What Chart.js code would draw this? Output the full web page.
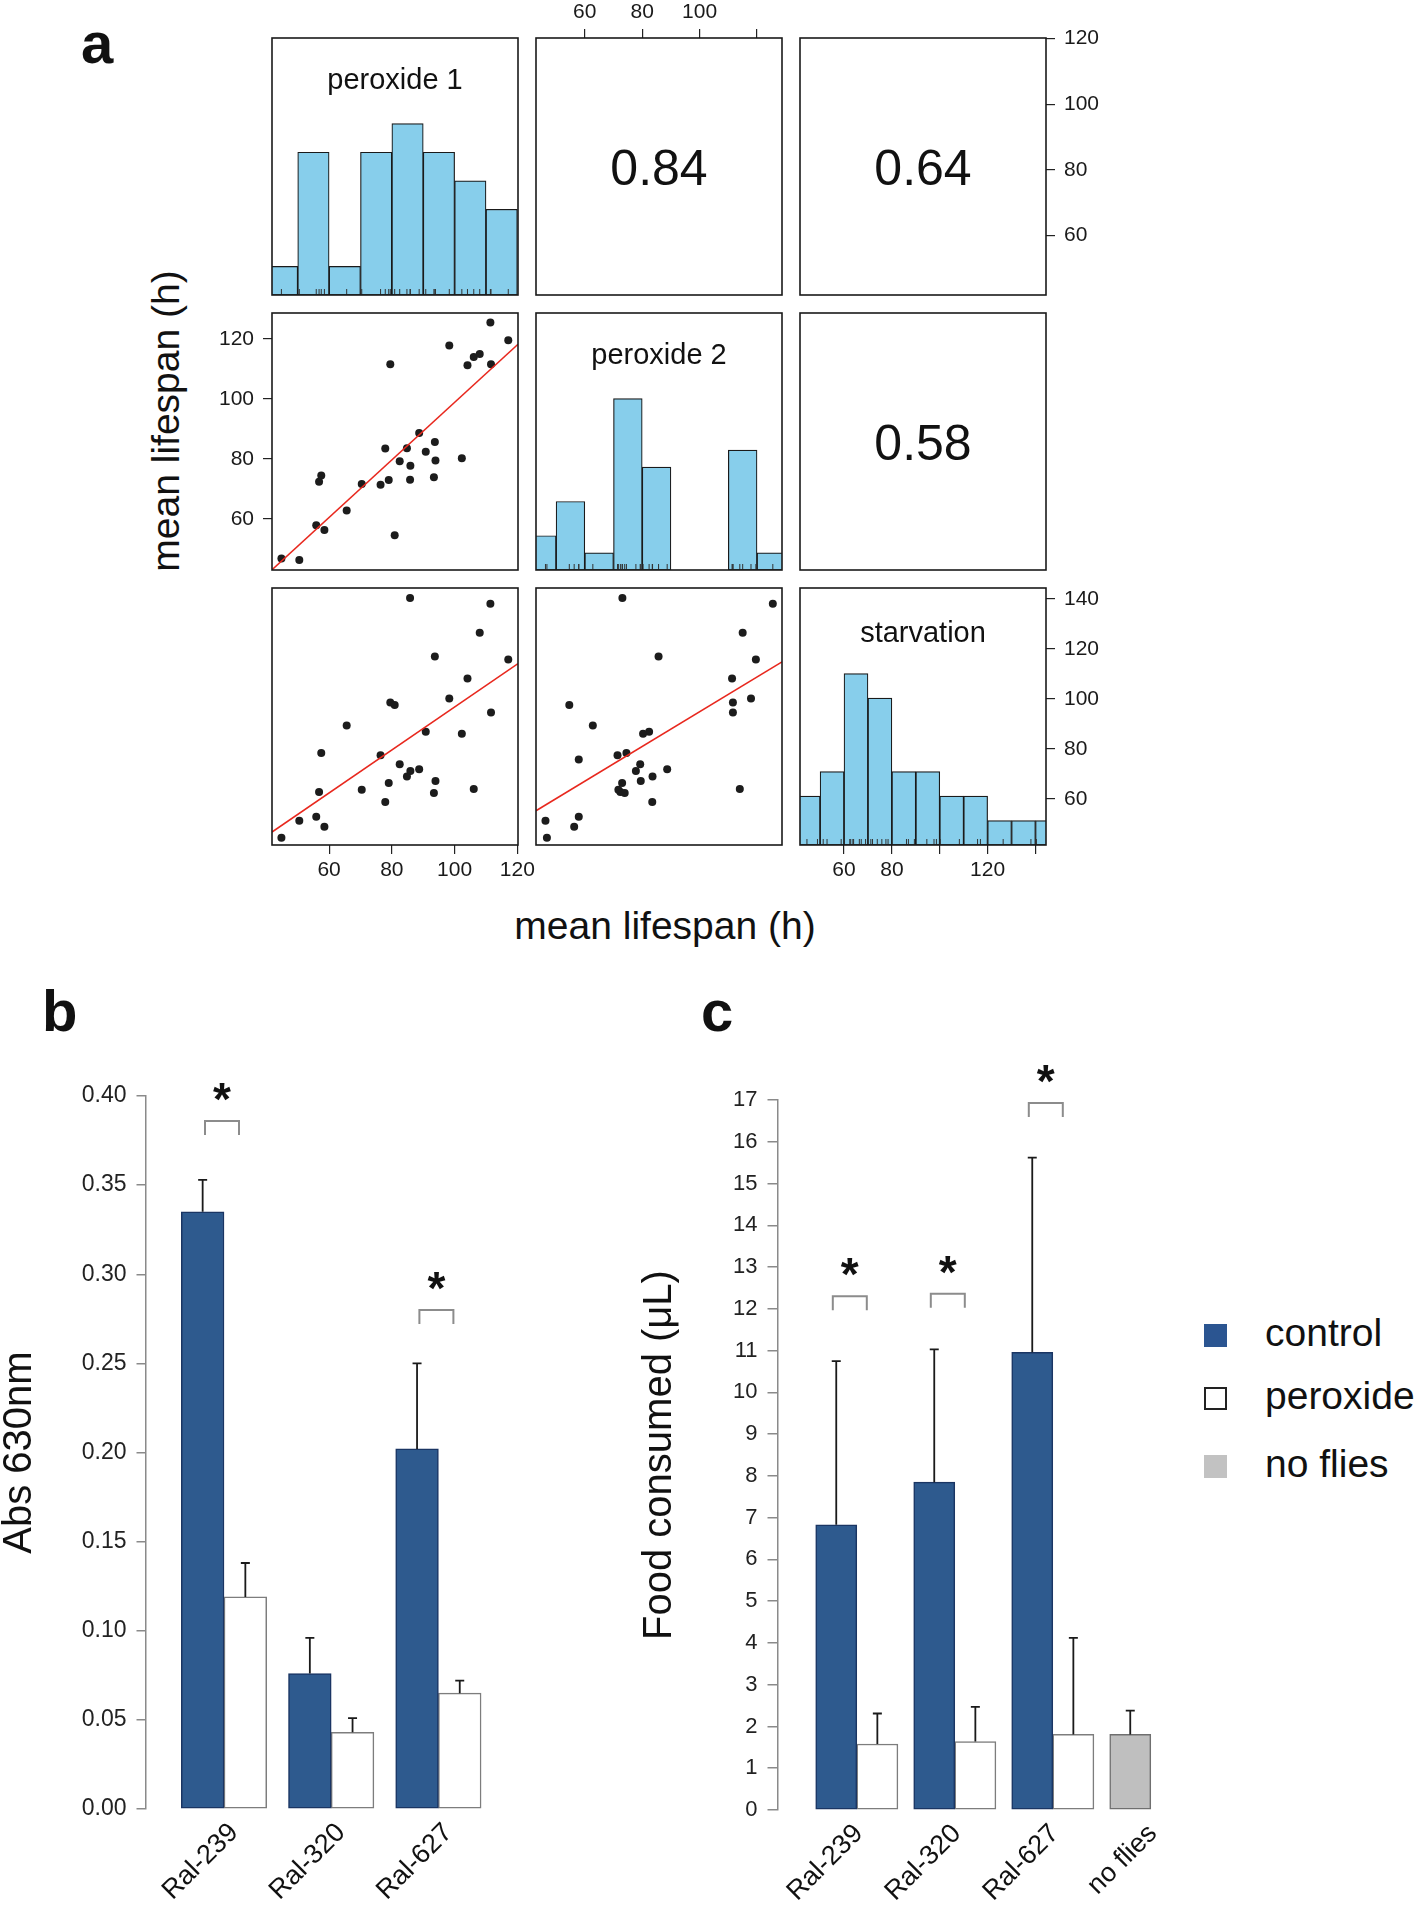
<!DOCTYPE html>
<html>
<head>
<meta charset="utf-8">
<script src="https://cdn.jsdelivr.net/npm/chart.js@4.4.1/dist/chart.umd.min.js"></script>
<style>
  body { margin: 0; width: 1418px; height: 1907px; position: relative; overflow: hidden; background: #fff;
         font-family: "Liberation Sans", Arial, sans-serif; color: #111; }
  canvas { position: absolute; }
  .tag { position: absolute; font-size: 58px; line-height: 58px; font-weight: bold; }
  .title { position: absolute; font-size: 39px; line-height: 39px; white-space: nowrap; }
  .key { position: absolute; left: 1265px; font-size: 39px; line-height: 39px; white-space: nowrap; }
  .sw { position: absolute; left: 1204px; width: 23px; height: 23px; box-sizing: border-box; }
</style>
</head>
<body>
<div class="tag" style="left:81px;top:14px">a</div>
<div class="tag" style="left:42px;top:982px">b</div>
<div class="tag" style="left:701px;top:982px">c</div>
<div class="title" style="left:165px;top:421px;transform:translate(-50%,-50%) rotate(-90deg)">mean lifespan (h)</div>
<div class="title" style="left:665px;top:925px;transform:translate(-50%,-50%)">mean lifespan (h)</div>

<div class="sw" style="top:1324px;background:#2b5591"></div>
<div class="key" style="top:1313px">control</div>
<div class="sw" style="top:1387px;background:#fff;border:2px solid #222"></div>
<div class="key" style="top:1376px">peroxide</div>
<div class="sw" style="top:1455px;background:#c2c2c2"></div>
<div class="key" style="top:1444px">no flies</div>

<script>
// ---- panel a : mean lifespan of each line (h), one entry per line ----
const peroxide1 = [44.8, 50.5, 55.9, 58.5, 56.8, 57.5, 65.6, 70.4, 76.4, 79.0, 77.9, 79.5, 80.9, 82.5, 84.8, 85.9,
                   85.8, 88.7, 90.8, 93.7, 93.9, 93.4, 98.3, 102.3, 104.1, 106.1, 108.0, 111.6, 111.4, 117.1, null];
const peroxide2 = [46.8, 46.3, 57.9, 56.3, 72.4, 74.5, 62.8, 71.7, 71.4, 73.0, 83.5, 111.6, 54.6, 79.3, 83.6, 77.8,
                   73.1, 88.7, 82.4, 85.7, 79.5, 73.9, 117.9, 80.3, 111.3, 114.0, 115.0, 111.6, 125.5, 119.6, 57.9];
const starvation = [44.5, 51.3, 52.9, 48.9, 62.8, 78.4, 89.4, 63.7, 77.5, 66.4, 58.8, 98.6, 97.6, 73.9, 69.0, 71.2,
                    140.4, 71.9, 86.9, 117.0, 67.2, 62.4, 100.2, 86.1, 108.2, 64.0, 126.5, 94.6, 138.1, 115.8, 75.8];

// histogram bins (start of each 10 h bin) and counts
const binWidth = 10;
const p1Bins = [40, 50, 60, 70, 80, 90, 100, 110];
const p1Counts = [1, 5, 1, 5, 6, 5, 4, 3];
const p2Bins = [40, 50, 60, 70, 80, 90, 100, 110, 120];
const p2Counts = [2, 4, 1, 10, 6, 0, 0, 7, 1];
const starvBins = [40, 50, 60, 70, 80, 90, 100, 110, 120, 130, 140];
const starvCounts = [2, 3, 7, 6, 3, 3, 2, 2, 1, 1, 1];

// linear fits [intercept, slope] and correlations
const fitP2onP1 = [3.0, 0.959];
const fitStarvOnP1 = [10.9, 0.859];
const fitStarvOnP2 = [25.4, 0.695];
const corrLabels = ['0.84', '0.64', '0.58'];

const p1Range = [41.8, 120.2], p2Range = [43.0, 128.7], starvRange = [41.6, 144.4];
const p1Ticks = [60, 80, 100, 120];
const p2Ticks = [60, 80, 100, 120];
const starvTicks = [60, 80, 100, 120, 140];

// ---- panel b : Abs 630nm ----
const strainsB = ['Ral-239', 'Ral-320', 'Ral-627'];
const absControl = [0.335, 0.076, 0.202];
const absControlErr = [0.018, 0.020, 0.048];
const absPeroxide = [0.119, 0.043, 0.065];
const absPeroxideErr = [0.019, 0.008, 0.007];
const absSig = [0.386, null, 0.280];
const absTicks = [0, 0.05, 0.10, 0.15, 0.20, 0.25, 0.30, 0.35, 0.40];

// ---- panel c : food consumed (uL) ----
const strainsC = ['Ral-239', 'Ral-320', 'Ral-627', 'no flies'];
const foodControl = [6.83, 7.85, 10.96, null];
const foodControlErr = [3.92, 3.18, 4.66, null];
const foodPeroxide = [1.58, 1.64, 1.81, null];
const foodPeroxideErr = [0.73, 0.83, 2.31, null];
const foodNoFlies = [null, null, null, 1.81];
const foodNoFliesErr = [null, null, null, 0.57];
const foodSig = [12.3, 12.36, 16.93, null];
const foodTicks = [0, 1, 2, 3, 4, 5, 6, 7, 8, 9, 10, 11, 12, 13, 14, 15, 16, 17];

Chart.defaults.animation = false;
Chart.defaults.responsive = false;
Chart.defaults.events = [];
Chart.defaults.font.family = '"Liberation Sans", Arial, sans-serif';

function addCanvas(left, top, w, h) {
  const c = document.createElement('canvas');
  c.width = w; c.height = h;
  c.style.left = left + 'px'; c.style.top = top + 'px';
  c.style.width = w + 'px'; c.style.height = h + 'px';
  document.body.appendChild(c);
  return c;
}

function centerText(ctx, s, x, y, font, color) {
  ctx.font = font;
  ctx.fillStyle = color || '#111';
  ctx.textAlign = 'center';
  ctx.textBaseline = 'alphabetic';
  const m = ctx.measureText(s);
  ctx.fillText(s, x, y + (m.actualBoundingBoxAscent - m.actualBoundingBoxDescent) / 2);
}

// box, rug, panel name and correlation text of the pairs plot
const pairsPlugin = {
  id: 'pairs',
  afterDraw(chart, args, o) {
    const ctx = chart.ctx, a = chart.chartArea;
    ctx.save();
    if (o.rug) {
      const xs = chart.scales.x;
      ctx.strokeStyle = '#333'; ctx.lineWidth = 1;
      o.rug.forEach(v => {
        if (v == null) return;
        const px = xs.getPixelForValue(v);
        if (px < a.left || px > a.right) return;
        ctx.beginPath(); ctx.moveTo(px, a.bottom); ctx.lineTo(px, a.bottom - 6); ctx.stroke();
      });
    }
    ctx.strokeStyle = '#1a1a1a'; ctx.lineWidth = 1.6;
    ctx.strokeRect(a.left, a.top, a.right - a.left, a.bottom - a.top);
    const cx = (a.left + a.right) / 2;
    if (o.name) centerText(ctx, o.name, cx, a.top + 43, '29px "Liberation Sans"');
    if (o.corr) centerText(ctx, o.corr, cx, (a.top + a.bottom) / 2, '50px "Liberation Sans"');
    ctx.restore();
  }
};

const M = 70, PW = 246, PH = 257;
const colX = [272, 536, 800], rowY = [38, 313, 588];

function pairAxis(kind, pos, range, ticks, labelled) {
  const vertical = kind === 'y';
  const shown = pos !== 'none';
  const opts = {
    type: 'linear', axis: kind, min: range[0], max: range[1], offset: false, display: shown,
    afterBuildTicks: s => { s.ticks = ticks.map(v => ({ value: v })); },
    grid: { display: true, offset: false, drawOnChartArea: false, drawTicks: true, tickLength: 9, color: '#222', lineWidth: 1.2 },
    border: { display: false },
    ticks: {
      autoSkip: false, maxRotation: 0, minRotation: 0, padding: vertical ? 9 : 4, color: '#1a1a1a',
      font: { family: 'Liberation Sans', size: 21 },
      callback: v => labelled.includes(v) ? String(v) : ''
    }
  };
  if (shown) {
    opts.position = pos;
    opts.afterFit = s => { if (vertical) s.width = M; else s.height = M; };
  }
  return opts;
}

function pairPanel(col, row, cfg) {
  const cv = addCanvas(colX[col] - M, rowY[row] - M, PW + 2 * M, PH + 2 * M);
  const ax = cfg.axes || {};
  const scales = {
    x: pairAxis('x', ax.x || 'none', cfg.xRange, cfg.xTicks || [], cfg.xLabels || []),
    y: pairAxis('y', ax.y || 'none', cfg.yRange, cfg.yTicks || [], cfg.yLabels || [])
  };
  if (cfg.y2) scales.y2 = pairAxis('y', 'right', cfg.y2.range, cfg.y2.ticks, cfg.y2.labels);
  const pad = { left: M, right: M, top: M, bottom: M };
  Object.values(scales).forEach(s => { if (s.display) pad[s.position] = 0; });
  new Chart(cv, {
    type: cfg.type || 'scatter',
    data: { datasets: cfg.datasets || [] },
    options: {
      layout: { padding: pad },
      scales,
      plugins: { pairs: cfg.deco || {}, legend: { display: false }, tooltip: { enabled: false } }
    },
    plugins: [pairsPlugin]
  });
}

function histSet(bins, counts) {
  return [{
    data: bins.map((b, i) => ({ x: b + binWidth / 2, y: counts[i] })),
    backgroundColor: '#87ceeb', borderColor: '#1a1a1a', borderWidth: 1.2, borderSkipped: false,
    barPercentage: 1, categoryPercentage: 1
  }];
}

function scatterSets(xs, ys, fit, xRange) {
  const pts = [];
  xs.forEach((x, i) => { if (x != null && ys[i] != null) pts.push({ x, y: ys[i] }); });
  return [
    { type: 'line', data: xRange.map(x => ({ x, y: fit[0] + fit[1] * x })), borderColor: '#e8281e',
      borderWidth: 1.6, pointRadius: 0, fill: false, order: 0 },
    { type: 'scatter', data: pts, pointRadius: 4, backgroundColor: '#1c1c1c', borderWidth: 0, order: 1 }
  ];
}

// row 1
pairPanel(0, 0, { type: 'bar', xRange: p1Range, yRange: [0, 1.5 * Math.max(...p1Counts)],
  datasets: histSet(p1Bins, p1Counts), deco: { name: 'peroxide 1', rug: peroxide1 } });
pairPanel(1, 0, { xRange: p2Range, yRange: [0, 1], axes: { x: 'top' }, xTicks: p2Ticks, xLabels: [60, 80, 100],
  deco: { corr: corrLabels[0] } });
pairPanel(2, 0, { xRange: starvRange, yRange: p1Range, axes: { y: 'right' }, yTicks: p1Ticks, yLabels: p1Ticks,
  deco: { corr: corrLabels[1] } });
// row 2
pairPanel(0, 1, { xRange: p1Range, yRange: p2Range, axes: { y: 'left' }, yTicks: p2Ticks, yLabels: p2Ticks,
  datasets: scatterSets(peroxide1, peroxide2, fitP2onP1, p1Range) });
pairPanel(1, 1, { type: 'bar', xRange: p2Range, yRange: [0, 1.5 * Math.max(...p2Counts)],
  datasets: histSet(p2Bins, p2Counts), deco: { name: 'peroxide 2', rug: peroxide2 } });
pairPanel(2, 1, { xRange: starvRange, yRange: p2Range, deco: { corr: corrLabels[2] } });
// row 3
pairPanel(0, 2, { xRange: p1Range, yRange: starvRange, axes: { x: 'bottom' }, xTicks: p1Ticks, xLabels: p1Ticks,
  datasets: scatterSets(peroxide1, starvation, fitStarvOnP1, p1Range) });
pairPanel(1, 2, { xRange: p2Range, yRange: starvRange,
  datasets: scatterSets(peroxide2, starvation, fitStarvOnP2, p2Range) });
pairPanel(2, 2, { type: 'bar', xRange: starvRange, yRange: [0, 1.5 * Math.max(...starvCounts)],
  axes: { x: 'bottom' }, xTicks: starvTicks, xLabels: [60, 80, 120],
  y2: { range: starvRange, ticks: starvTicks, labels: starvTicks },
  datasets: histSet(starvBins, starvCounts), deco: { name: 'starvation', rug: starvation } });

// ---- bar panels b and c ----
const errPlugin = {
  id: 'errsig',
  afterDatasetsDraw(chart, args, o) {
    const ctx = chart.ctx, xs = chart.scales.x, ys = chart.scales.y;
    ctx.save();
    chart.data.datasets.forEach((ds, di) => {
      chart.getDatasetMeta(di).data.forEach((bar, i) => {
        const v = ds.data[i].y, e = ds.err[i];
        if (v == null || e == null) return;
        const top = ys.getPixelForValue(v + e);
        ctx.strokeStyle = '#1a1a1a'; ctx.lineWidth = 1.8;
        ctx.beginPath();
        ctx.moveTo(bar.x, bar.y); ctx.lineTo(bar.x, top);
        ctx.moveTo(bar.x - o.cap / 2, top); ctx.lineTo(bar.x + o.cap / 2, top);
        ctx.stroke();
      });
    });
    o.sig.forEach((s, i) => {
      if (s == null) return;
      const cx = xs.getPixelForValue(i + 1) + o.shift, y = ys.getPixelForValue(s);
      ctx.strokeStyle = '#8c8c8c'; ctx.lineWidth = 2;
      ctx.beginPath();
      ctx.moveTo(cx - 17, y + 14); ctx.lineTo(cx - 17, y); ctx.lineTo(cx + 17, y); ctx.lineTo(cx + 17, y + 14);
      ctx.stroke();
      centerText(ctx, '*', cx, y - 29, 'bold 46px "Liberation Sans"', '#111');
    });
    ctx.restore();
  }
};

function barPanel(p) {
  const cv = addCanvas(p.left, p.top, p.w, p.h);
  new Chart(cv, {
    type: 'bar',
    data: {
      datasets: p.series.map(s => ({
        data: s.values.map((v, i) => ({ x: i + 1, y: v })),
        err: s.err, stack: s.stack,
        backgroundColor: s.fill, borderColor: s.line, borderWidth: 1.5, borderSkipped: false,
        barThickness: p.barW
      }))
    },
    options: {
      layout: { padding: p.pad },
      scales: {
        x: {
          type: 'linear', min: p.xr[0], max: p.xr[1], offset: false,
          afterBuildTicks: s => { s.ticks = p.cats.map((c, i) => ({ value: i + 1 })); },
          afterFit: s => { s.height = p.xh; },
          grid: { display: false, drawTicks: false, offset: false }, border: { display: false },
          ticks: { autoSkip: false, minRotation: 45, maxRotation: 45, padding: 8, labelOffset: p.labelShift,
                   color: '#111', font: { family: 'Liberation Sans', size: 27 }, callback: v => p.cats[v - 1] }
        },
        y: {
          min: 0, max: p.yTicks[p.yTicks.length - 1], stacked: false,
          afterBuildTicks: s => { s.ticks = p.yTicks.map(v => ({ value: v })); },
          afterFit: s => { s.width = p.yw; },
          grid: { display: true, drawOnChartArea: false, drawTicks: true, tickLength: p.tick, color: '#8a8a8a', lineWidth: 1.5 },
          border: { display: true, color: '#8a8a8a', width: 1.5 },
          ticks: { autoSkip: false, padding: 10, color: '#222', font: { family: 'Liberation Sans', size: p.tickFont },
                   callback: p.fmt },
          title: { display: true, text: p.title, color: '#111', padding: { top: 0, bottom: 0 },
                   font: { family: 'Liberation Sans', size: 40, lineHeight: 1 } }
        }
      },
      plugins: { errsig: { sig: p.sig, shift: p.shift, cap: 9 }, legend: { display: false }, tooltip: { enabled: false } }
    },
    plugins: [errPlugin]
  });
}

const navy = '#2e5a8e', navyLine = '#1a3563';

barPanel({
  left: 0, top: 1040, w: 540, h: 867, pad: { left: 0, top: 56, right: 20, bottom: 0 },
  yw: 146, xh: 98, xr: [0.2724, 3.7612], barW: 42.7, tick: 9.5, tickFont: 23, labelShift: 10,
  cats: strainsB, yTicks: absTicks, fmt: v => v.toFixed(2), title: 'Abs 630nm', sig: absSig, shift: -2,
  series: [
    { values: absControl, err: absControlErr, stack: 'a', fill: navy, line: navyLine },
    { values: absPeroxide, err: absPeroxideErr, stack: 'b', fill: '#ffffff', line: '#7d7d7d' }
  ]
});

barPanel({
  left: 580, top: 1040, w: 620, h: 867, pad: { left: 59.5, top: 60, right: 10, bottom: 0 },
  yw: 138.5, xh: 97, xr: [0.1959, 4.3999], barW: 41.1, tick: 10.5, tickFont: 22, labelShift: 2,
  cats: strainsC, yTicks: foodTicks, fmt: v => String(v), title: 'Food consumed (μL)', sig: foodSig, shift: -7,
  series: [
    { values: foodControl, err: foodControlErr, stack: 'a', fill: navy, line: navyLine },
    { values: foodPeroxide, err: foodPeroxideErr, stack: 'b', fill: '#ffffff', line: '#7d7d7d' },
    { values: foodNoFlies, err: foodNoFliesErr, stack: 'a', fill: '#bfbfbf', line: '#6f6f6f' }
  ]
});
</script>
</body>
</html>
